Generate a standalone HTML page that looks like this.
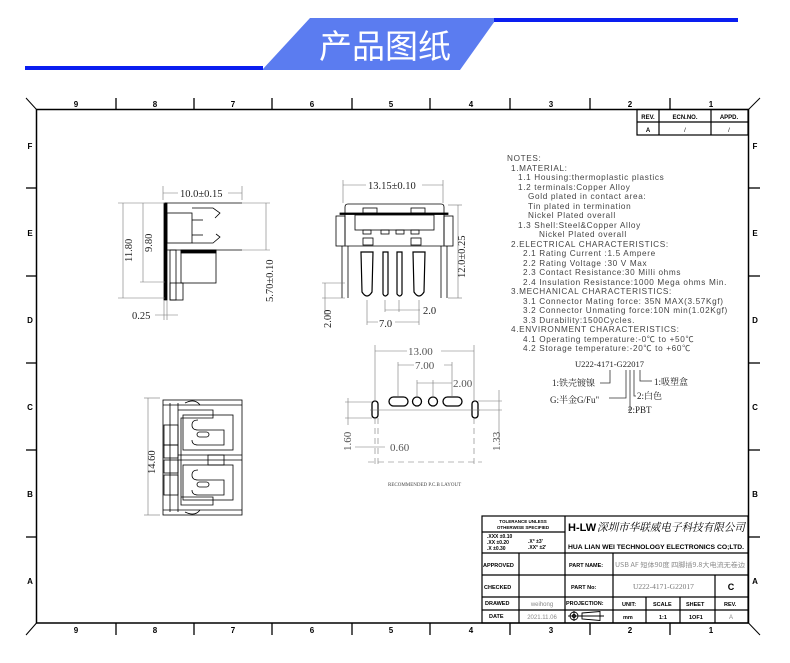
<!DOCTYPE html>
<html><head><meta charset="utf-8"><style>
html,body{margin:0;padding:0;background:#fff;}
svg{display:block;font-family:"Liberation Sans","Noto Sans CJK SC",sans-serif;}
.s{font-family:"Liberation Serif","Noto Serif CJK SC",serif;}
</style></head><body>
<svg width="790" height="663" viewBox="0 0 790 663" xmlns="http://www.w3.org/2000/svg">
<!-- header -->
<polygon points="310,18 497,18 460,70 262,70" fill="#5b7cf0"/>
<rect x="25" y="66" width="238" height="4" fill="#0a1ef0"/>
<rect x="494" y="18" width="244" height="4" fill="#0a1ef0"/>
<text x="385" y="58" font-size="33" fill="#fff" text-anchor="middle" font-family="Noto Sans CJK SC,sans-serif">产品图纸</text>

<!-- frame -->
<g stroke="#000" fill="none">
<rect x="36.5" y="109.5" width="712" height="513.5" stroke-width="1.5"/>
<line x1="26" y1="98" x2="36.5" y2="109.5"/><line x1="26" y1="635" x2="36.5" y2="623"/>
<line x1="760" y1="98" x2="748.5" y2="109.5"/><line x1="760" y1="635" x2="748.5" y2="623"/>
<g stroke-width="1.3">
<line x1="116" y1="98" x2="116" y2="109"/><line x1="194" y1="98" x2="194" y2="109"/><line x1="272" y1="98" x2="272" y2="109"/><line x1="352" y1="98" x2="352" y2="109"/><line x1="430" y1="98" x2="430" y2="109"/><line x1="510" y1="98" x2="510" y2="109"/><line x1="590" y1="98" x2="590" y2="109"/><line x1="670" y1="98" x2="670" y2="109"/>
<line x1="116" y1="623" x2="116" y2="635"/><line x1="194" y1="623" x2="194" y2="635"/><line x1="272" y1="623" x2="272" y2="635"/><line x1="352" y1="623" x2="352" y2="635"/><line x1="430" y1="623" x2="430" y2="635"/><line x1="510" y1="623" x2="510" y2="635"/><line x1="590" y1="623" x2="590" y2="635"/><line x1="670" y1="623" x2="670" y2="635"/>
<line x1="26" y1="188" x2="36" y2="188"/><line x1="26" y1="276" x2="36" y2="276"/><line x1="26" y1="363" x2="36" y2="363"/><line x1="26" y1="450" x2="36" y2="450"/><line x1="26" y1="537" x2="36" y2="537"/>
<line x1="749" y1="188" x2="760" y2="188"/><line x1="749" y1="276" x2="760" y2="276"/><line x1="749" y1="363" x2="760" y2="363"/><line x1="749" y1="450" x2="760" y2="450"/><line x1="749" y1="537" x2="760" y2="537"/>
</g></g>
<g font-size="8" font-weight="bold" text-anchor="middle">
<text x="76" y="107">9</text><text x="155" y="107">8</text><text x="233" y="107">7</text><text x="312" y="107">6</text><text x="391" y="107">5</text><text x="471" y="107">4</text><text x="551" y="107">3</text><text x="630" y="107">2</text><text x="711" y="107">1</text>
<text x="76" y="633">9</text><text x="155" y="633">8</text><text x="233" y="633">7</text><text x="312" y="633">6</text><text x="391" y="633">5</text><text x="471" y="633">4</text><text x="551" y="633">3</text><text x="630" y="633">2</text><text x="711" y="633">1</text>
<text x="30" y="149">F</text><text x="30" y="236">E</text><text x="30" y="323">D</text><text x="30" y="410">C</text><text x="30" y="497">B</text><text x="30" y="584">A</text>
<text x="755" y="149">F</text><text x="755" y="236">E</text><text x="755" y="323">D</text><text x="755" y="410">C</text><text x="755" y="497">B</text><text x="755" y="584">A</text>
</g>
<!-- rev table -->
<g stroke="#000" fill="none" stroke-width="1.2">
<rect x="637" y="109.5" width="111" height="25.5"/><line x1="637" y1="122" x2="748" y2="122"/><line x1="659" y1="109" x2="659" y2="135"/><line x1="711" y1="109" x2="711" y2="135"/>
</g>
<g font-size="6" font-weight="bold" text-anchor="middle"><text x="648" y="119">REV.</text><text x="685" y="119">ECN.NO.</text><text x="729" y="119">APPD.</text><text x="648" y="132">A</text><text x="685" y="132" font-weight="normal">/</text><text x="729" y="132" font-weight="normal">/</text></g>

<!-- notes -->
<g font-size="8.2" fill="#444" letter-spacing="0.65" xml:space="preserve">
<text x="507" y="161">NOTES:</text>
<text x="511" y="171">1.MATERIAL:</text>
<text x="518" y="180">1.1  Housing:thermoplastic plastics</text>
<text x="518" y="190">1.2  terminals:Copper Alloy</text>
<text x="528" y="199">Gold plated in contact area:</text>
<text x="528" y="209">Tin plated in termination</text>
<text x="528" y="218">Nickel Plated overall</text>
<text x="518" y="228">1.3  Shell:Steel&amp;Copper Alloy</text>
<text x="539" y="237">Nickel Plated overall</text>
<text x="511" y="247">2.ELECTRICAL CHARACTERISTICS:</text>
<text x="523" y="256">2.1  Rating Current :1.5 Ampere</text>
<text x="523" y="266">2.2  Rating Voltage :30 V Max</text>
<text x="523" y="275">2.3  Contact Resistance:30 Milli ohms</text>
<text x="523" y="285">2.4  Insulation Resistance:1000 Mega ohms Min.</text>
<text x="511" y="294">3.MECHANICAL CHARACTERISTICS:</text>
<text x="523" y="304">3.1  Connector Mating force: 35N MAX(3.57Kgf)</text>
<text x="523" y="313">3.2  Connector Unmating force:10N min(1.02Kgf)</text>
<text x="523" y="323">3.3  Durability:1500Cycles.</text>
<text x="511" y="332">4.ENVIRONMENT CHARACTERISTICS:</text>
<text x="523" y="342">4.1  Operating temperature:-0℃ to +50℃</text>
<text x="523" y="351">4.2  Storage temperature:-20℃ to +60℃</text>
</g>
<!-- part code -->
<g class="s" font-size="9" fill="#222">
<text x="575" y="367" font-size="8.5">U222-4171-G22017</text>
<text x="552" y="386">1:铁壳镀镍</text>
<text x="550" y="403">G:半金G/Fu"</text>
<text x="654" y="385">1:吸塑盒</text>
<text x="637" y="399">2:白色</text>
<text x="628" y="413">2:PBT</text>
</g>
<g stroke="#333" fill="none" stroke-width="0.8">
<polyline points="610,370 610,383 600,383"/><polyline points="626,370 626,398 609,398"/>
<polyline points="630,370 630,410 628,410"/><polyline points="634,370 634,396 636,396"/><polyline points="640,370 640,381 652,381"/>
</g>

<!-- side view -->
<g stroke="#000" fill="none" stroke-width="0.8">
<line x1="165" y1="203" x2="242" y2="203"/><line x1="165" y1="250" x2="242" y2="250"/>
<rect x="164" y="203" width="3" height="97" fill="#000"/>
<rect x="167" y="213" width="25" height="30"/>
<line x1="192" y1="220" x2="203" y2="220"/><line x1="192" y1="235" x2="203" y2="235"/>
<path d="M192,208 L213,208 L220,213 L215,218"/><path d="M192,243 L213,243 L220,237 L216,234"/>
<rect x="181" y="250" width="35" height="33"/><rect x="181" y="250" width="35" height="3" fill="#000"/>
<rect x="170" y="250" width="6" height="50"/><rect x="170" y="283" width="13" height="17"/>
</g>
<g stroke="#777" stroke-width="0.6" fill="none">
<line x1="163" y1="186" x2="163" y2="200"/><line x1="242" y1="186" x2="242" y2="200"/><line x1="163" y1="193" x2="242" y2="193"/>
<line x1="118" y1="203" x2="165" y2="203"/><line x1="118" y1="298" x2="165" y2="298"/><line x1="123" y1="203" x2="123" y2="298"/>
<line x1="143" y1="203" x2="143" y2="282"/><line x1="140" y1="282" x2="165" y2="282"/>
<line x1="242" y1="203" x2="270" y2="203"/><line x1="242" y1="250" x2="270" y2="250"/><line x1="266" y1="203" x2="266" y2="250"/>
<line x1="164" y1="300" x2="164" y2="320"/><line x1="167" y1="300" x2="167" y2="320"/><line x1="155" y1="315" x2="178" y2="315"/>
</g>
<g class="s" font-size="10.5" fill="#222">
<rect x="178" y="187" width="50" height="12" fill="#fff"/>
<text x="180" y="197">10.0±0.15</text>
<text x="132" y="262" transform="rotate(-90 132 262)">11.80</text>
<text x="152" y="252" transform="rotate(-90 152 252)">9.80</text>
<text x="273" y="302" transform="rotate(-90 273 302)">5.70±0.10</text>
<text x="132" y="319">0.25</text>
</g>

<!-- front view -->
<g stroke="#000" fill="none" stroke-width="0.8">
<path d="M345,245 L345,207 Q345,204 348,204 L441,204 Q444,204 444,207 L444,245"/>
<rect x="340" y="213" width="108" height="1.5" fill="#000"/>
<rect x="355" y="215" width="79" height="15"/>
<rect x="363" y="208" width="14" height="5"/><rect x="411" y="208" width="14" height="5"/>
<rect x="363" y="230" width="8" height="4"/><rect x="381" y="230" width="8" height="4"/><rect x="396" y="230" width="8" height="4"/><rect x="411" y="230" width="8" height="4"/>
<rect x="363" y="238" width="10" height="7"/><rect x="411" y="238" width="10" height="7"/>
<rect x="336" y="216" width="9" height="30"/><rect x="444" y="216" width="9" height="30"/>
<line x1="345" y1="246" x2="444" y2="246"/>
<line x1="342" y1="246" x2="342" y2="298"/><line x1="348" y1="246" x2="348" y2="298"/>
<line x1="441" y1="246" x2="441" y2="298"/><line x1="447" y1="246" x2="447" y2="298"/>
<path d="M361,252 L373,252 L372,292 Q367,300 362,292 Z" stroke-width="1.2"/>
<path d="M383,252 L388,252 L388,294 Q385,298 383,294 Z" stroke-width="1.2"/>
<path d="M397,252 L402,252 L402,294 Q400,298 397,294 Z" stroke-width="1.2"/>
<path d="M413,252 L425,252 L424,292 Q419,300 414,292 Z" stroke-width="1.2"/>
</g>
<g stroke="#777" stroke-width="0.6" fill="none">
<line x1="343" y1="180" x2="343" y2="203"/><line x1="443" y1="180" x2="443" y2="203"/><line x1="343" y1="185" x2="443" y2="185"/>
<line x1="448" y1="205" x2="462" y2="205"/><line x1="448" y1="298" x2="462" y2="298"/><line x1="458" y1="205" x2="458" y2="298"/>
<line x1="322" y1="283" x2="345" y2="283"/><line x1="322" y1="298" x2="345" y2="298"/><line x1="325" y1="283" x2="325" y2="315"/>
<line x1="367" y1="300" x2="367" y2="325"/><line x1="419" y1="300" x2="419" y2="325"/><line x1="367" y1="322" x2="419" y2="322"/>
<line x1="385" y1="300" x2="385" y2="312"/><line x1="399" y1="300" x2="399" y2="312"/><line x1="385" y1="310" x2="420" y2="310"/>
</g>
<g class="s" font-size="10.5" fill="#222">
<rect x="366" y="179" width="56" height="12" fill="#fff"/>
<text x="368" y="189">13.15±0.10</text>
<text x="465" y="278" transform="rotate(-90 465 278)">12.0±0.25</text>
<text x="331" y="328" transform="rotate(-90 331 328)">2.00</text>
<rect x="378" y="317" width="17" height="10" fill="#fff"/><text x="379" y="327">7.0</text>
<text x="423" y="314">2.0</text>
</g>

<!-- bottom view -->
<g stroke="#000" fill="none" stroke-width="0.8">
<rect x="163" y="400" width="79" height="115"/>
<line x1="170" y1="403" x2="170" y2="512"/><line x1="178" y1="403" x2="178" y2="512"/>
<line x1="163" y1="405" x2="242" y2="405"/><line x1="163" y1="510" x2="242" y2="510"/>
<path d="M178,410 L213,410 L213,418 L181,418 L181,505 L213,505 L213,497 L181,497"/>
<rect x="183" y="415" width="50" height="35"/><rect x="183" y="465" width="50" height="35"/>
<line x1="178" y1="455" x2="242" y2="455"/><line x1="178" y1="460" x2="242" y2="460"/>
<rect x="208" y="455" width="16" height="10"/>
<rect x="164" y="425" width="14" height="20"/><rect x="164" y="445" width="14" height="13"/><rect x="164" y="460" width="14" height="13"/><rect x="164" y="475" width="14" height="20"/>
<path d="M198,420 Q192,420 192,425 Q192,430 198,430 L224,430 L224,445 L198,445 Q192,445 192,440"/>
<rect x="197" y="432" width="12" height="5" rx="2.5"/>
<path d="M198,470 Q192,470 192,475 Q192,480 198,480 L224,480 L224,495 L198,495 Q192,495 192,490"/>
<rect x="197" y="482" width="12" height="5" rx="2.5"/>
<path d="M185,403 Q195,398 200,405"/><path d="M185,512 Q195,517 200,510"/>
</g>
<g stroke="#777" stroke-width="0.6" fill="none"><line x1="144" y1="398" x2="160" y2="398"/><line x1="144" y1="515" x2="160" y2="515"/><line x1="148" y1="398" x2="148" y2="515"/></g>
<text class="s" x="155" y="474" font-size="10.5" fill="#222" transform="rotate(-90 155 474)">14.60</text>

<!-- PCB layout -->
<g stroke="#000" fill="none" stroke-width="1.3">
<rect x="389" y="397" width="19" height="9" rx="4.5"/><circle cx="417" cy="401.5" r="4.5"/><circle cx="433" cy="401.5" r="4.5"/><rect x="443" y="397" width="19" height="9" rx="4.5"/>
<rect x="372" y="401" width="6" height="17" rx="3"/><rect x="472" y="401" width="6" height="17" rx="3"/>
</g>
<g stroke="#777" stroke-width="0.6" fill="none">
<line x1="375" y1="345" x2="375" y2="400"/><line x1="474" y1="345" x2="474" y2="400"/><line x1="375" y1="351" x2="474" y2="351"/>
<line x1="398" y1="362" x2="398" y2="396"/><line x1="452" y1="362" x2="452" y2="396"/><line x1="398" y1="365" x2="452" y2="365"/>
<line x1="417" y1="380" x2="417" y2="396"/><line x1="433" y1="380" x2="433" y2="396"/><line x1="417" y1="383" x2="452" y2="383"/>
<line x1="345" y1="402" x2="372" y2="402"/><line x1="345" y1="418" x2="372" y2="418"/><line x1="348" y1="398" x2="348" y2="425"/>
<line x1="370" y1="410" x2="480" y2="410"/>
<line x1="478" y1="401" x2="502" y2="401"/><line x1="478" y1="410" x2="502" y2="410"/><line x1="499" y1="390" x2="499" y2="440"/>
<line x1="355" y1="447" x2="385" y2="447"/>
<g stroke-dasharray="6,4"><line x1="375" y1="418" x2="375" y2="465"/><line x1="474" y1="418" x2="474" y2="465"/><line x1="368" y1="462" x2="482" y2="462"/><line x1="378" y1="418" x2="378" y2="465"/></g>
</g>
<g class="s" font-size="11" fill="#555">
<rect x="407" y="345" width="34" height="12" fill="#fff"/><text x="408" y="355">13.00</text>
<rect x="414" y="359" width="30" height="12" fill="#fff"/><text x="415" y="369">7.00</text>
<text x="453" y="387">2.00</text>
<text x="351" y="451" transform="rotate(-90 351 451)">1.60</text>
<text x="390" y="451">0.60</text>
<text x="500" y="451" transform="rotate(-90 500 451)">1.33</text>
</g>
<text class="s" x="388" y="486" font-size="5" fill="#444">RECOMMENDED  P.C.B LAYOUT</text>

<!-- title block -->
<g stroke="#000" fill="none" stroke-width="1.2">
<rect x="482" y="516" width="266" height="107"/>
<line x1="482" y1="553" x2="748" y2="553"/><line x1="482" y1="575" x2="748" y2="575"/><line x1="482" y1="597" x2="748" y2="597"/><line x1="482" y1="610" x2="748" y2="610"/>
<line x1="482" y1="532" x2="565" y2="532"/>
<line x1="519" y1="553" x2="519" y2="623"/><line x1="565" y1="516" x2="565" y2="623"/>
<line x1="613" y1="553" x2="613" y2="623"/><line x1="646" y1="597" x2="646" y2="623"/><line x1="680" y1="597" x2="680" y2="623"/><line x1="715" y1="575" x2="715" y2="623"/>
</g>
<g font-size="5.5" font-weight="bold" fill="#000">
<text x="523" y="523" text-anchor="middle" font-size="4.5">TOLERANCE UNLESS</text>
<text x="523" y="529" text-anchor="middle" font-size="4.5">OTHERWISE SPECIFIED</text>
<text x="487" y="538" font-size="5">.XXX  ±0.10</text><text x="487" y="544" font-size="5">.XX   ±0.20</text><text x="487" y="550" font-size="5">.X     ±0.30</text>
<text x="528" y="543" font-size="5">.X°   ±3'</text><text x="528" y="549" font-size="5">.XX°  ±2'</text>
<text x="483" y="567">APPROVED</text><text x="484" y="589">CHECKED</text><text x="485" y="605">DRAWED</text><text x="489" y="618">DATE</text>
<text x="569" y="567">PART NAME:</text><text x="571" y="589">PART No:</text><text x="566" y="605">PROJECTION:</text>
<text x="622" y="606">UNIT:</text><text x="653" y="606">SCALE</text><text x="686" y="606">SHEET</text><text x="724" y="606">REV.</text>
<text x="623" y="619">mm</text><text x="659" y="619">1:1</text><text x="689" y="619">1OF1</text>
<text x="568" y="549" font-size="6.3" textLength="176" lengthAdjust="spacingAndGlyphs">HUA LIAN WEI TECHNOLOGY ELECTRONICS CO;LTD.</text>
</g>
<text x="568" y="531" font-size="11" font-weight="bold" fill="#000" font-family="Liberation Sans,sans-serif">H-LW</text>
<text x="597" y="531" font-size="11" fill="#000" font-style="italic" font-family="Noto Serif CJK SC,serif" textLength="148" lengthAdjust="spacingAndGlyphs">深圳市华联威电子科技有限公司</text>
<text x="615" y="567" font-size="6.5" fill="#888" font-family="Noto Sans CJK SC,sans-serif" textLength="130" lengthAdjust="spacingAndGlyphs">USB AF 短体90度 四脚插9.8大电流无卷边</text>
<text x="633" y="589" font-size="7.5" fill="#777" class="s">U222-4171-G22017</text>
<text x="731" y="590" font-size="9" text-anchor="middle" font-weight="bold">C</text>
<text x="542" y="606" font-size="6" fill="#888" text-anchor="middle">weihong</text>
<text x="542" y="619" font-size="6" fill="#888" text-anchor="middle">2021.11.06</text>
<text x="731" y="619" font-size="6" fill="#888" text-anchor="middle">A</text>
<g stroke="#000" fill="none" stroke-width="0.9">
<circle cx="574" cy="616" r="4"/><circle cx="574" cy="616" r="1.5"/><line x1="568" y1="616" x2="580" y2="616"/><line x1="574" y1="611" x2="574" y2="621"/>
<path d="M582,613 L600,611.5 L600,620.5 L582,619 Z"/><line x1="579" y1="616" x2="604" y2="616"/>
</g>
</svg>
</body></html>
